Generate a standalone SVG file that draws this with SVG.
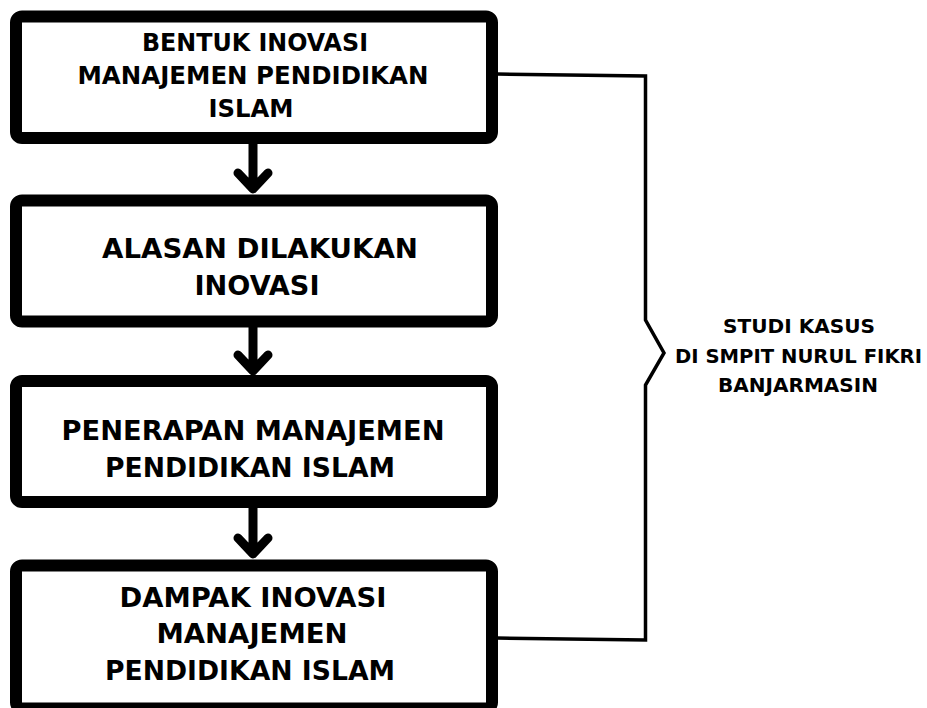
<svg xmlns="http://www.w3.org/2000/svg" width="927" height="708" viewBox="0 0 927 708">
<defs>
<style>
.box{fill:#fff;stroke:#000;stroke-width:12}
.t{font-family:"DejaVu Sans","Open Sans","Liberation Sans",sans-serif;font-weight:700;fill:#000;text-anchor:middle}
.b{font-size:27px}
.b1{font-size:25px}
.s{font-size:19px}
.conn{fill:none;stroke:#000;stroke-width:9;stroke-linecap:round;stroke-linejoin:round}
.brace{fill:none;stroke:#000;stroke-width:3.5;stroke-linejoin:miter}
</style>
</defs>
<rect width="927" height="708" fill="#fff"/>
<g id="connectors">
<path class="conn" d="M253 143V188M238 173L253 189L268 173"/>
<path class="conn" d="M253 327V370M238 355L253 371L268 355"/>
<path class="conn" d="M253 507V553M238 538L253 554L268 538"/>
<path class="brace" d="M497 74L645.5 76V320L664 353L645.5 385V640L497 638"/>
</g>
<g id="n1">
<rect class="box" x="16" y="16.5" width="476" height="121.5" rx="6"/>
<text class="t b1" x="255" y="51" textLength="226" lengthAdjust="spacingAndGlyphs">BENTUK INOVASI</text>
<text class="t b1" x="253" y="84" textLength="351" lengthAdjust="spacingAndGlyphs">MANAJEMEN PENDIDIKAN</text>
<text class="t b1" x="251" y="117" textLength="85" lengthAdjust="spacingAndGlyphs">ISLAM</text>
</g>
<g id="n2">
<rect class="box" x="16" y="200.5" width="476" height="121" rx="6"/>
<text class="t b" x="260" y="258" textLength="316" lengthAdjust="spacingAndGlyphs">ALASAN DILAKUKAN</text>
<text class="t b" x="257" y="295" textLength="125" lengthAdjust="spacingAndGlyphs">INOVASI</text>
</g>
<g id="n3">
<rect class="box" x="16" y="381" width="476" height="121" rx="6"/>
<text class="t b" x="253" y="440" textLength="383" lengthAdjust="spacingAndGlyphs">PENERAPAN MANAJEMEN</text>
<text class="t b" x="250" y="477" textLength="290" lengthAdjust="spacingAndGlyphs">PENDIDIKAN ISLAM</text>
</g>
<g id="n4">
<rect class="box" x="16" y="565.5" width="476" height="143" rx="6"/>
<text class="t b" x="253" y="607" textLength="267" lengthAdjust="spacingAndGlyphs">DAMPAK INOVASI</text>
<text class="t b" x="252" y="643" textLength="191" lengthAdjust="spacingAndGlyphs">MANAJEMEN</text>
<text class="t b" x="250" y="680" textLength="290" lengthAdjust="spacingAndGlyphs">PENDIDIKAN ISLAM</text>
</g>
<g id="label">
<text class="t s" x="799" y="333" textLength="152" lengthAdjust="spacingAndGlyphs">STUDI KASUS</text>
<text class="t s" x="798.5" y="363" textLength="247" lengthAdjust="spacingAndGlyphs">DI SMPIT NURUL FIKRI</text>
<text class="t s" x="798" y="392" textLength="160" lengthAdjust="spacingAndGlyphs">BANJARMASIN</text>
</g>
</svg>
